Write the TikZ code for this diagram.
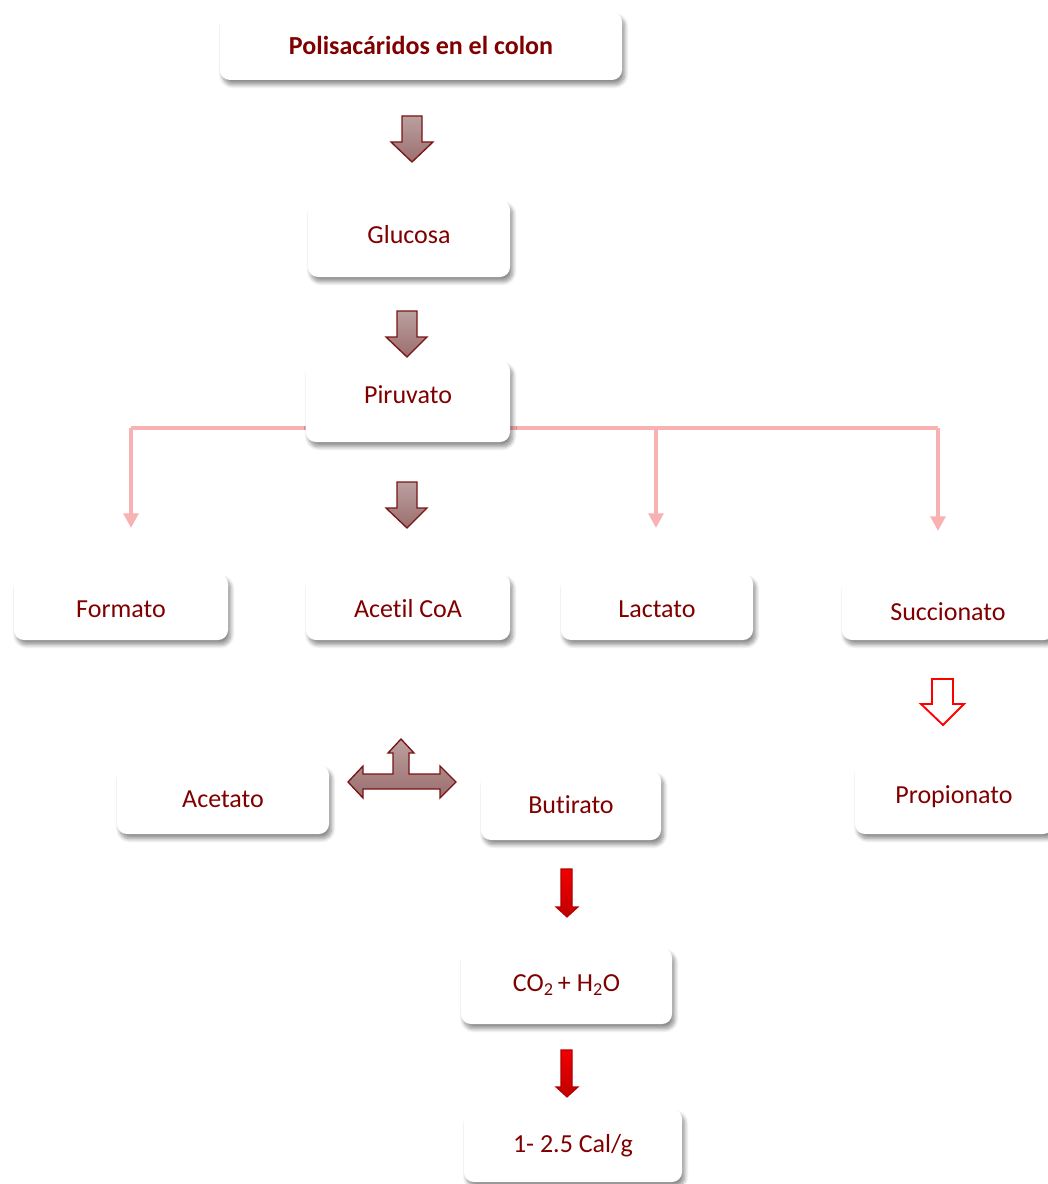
\documentclass[tikz,border=0pt]{standalone}
\usepackage{fontspec}
\setmainfont{Carlito}[Ligatures=NoCommon]
\usetikzlibrary{shadows.blur,arrows.meta}
\definecolor{txtred}{HTML}{800000}
\definecolor{pinkline}{HTML}{F8B2B2}
\definecolor{arrowedge}{HTML}{7A1414}
\definecolor{arrowtop}{HTML}{BBA0A0}
\definecolor{arrowbot}{HTML}{9C6E6E}
\tikzset{
  box/.style={rectangle, rounded corners=7.5pt, fill=white, draw=none,
    text=txtred, font=\fontsize{19.5pt}{23pt}\selectfont,
    text height=14.04pt, text depth=6.24pt, inner sep=0pt,
    blur shadow={shadow xshift=2pt, shadow yshift=-3.5pt, shadow blur steps=8, shadow opacity=45, shadow blur radius=3pt}},
  tp/.style 2 args={text height=#1pt, text depth=#2pt},
  blockarrow/.style={draw=arrowedge, line width=1pt, line join=miter, top color=arrowtop, bottom color=arrowbot},
  redarrow/.style={draw=red!70!black, line width=0.8pt, top color=red!95!black, bottom color=red!75!black},
  hollowarrow/.style={draw=red, line width=1.4pt, fill=white},
  pinkconn/.style={draw=pinkline, line width=3pt, -{Triangle[width=11pt,length=11pt]}},
}
\begin{document}
\begin{tikzpicture}[x=0.75pt,y=-0.75pt]
\useasboundingbox (0,0) rectangle (1048,1184);

% pink connectors (behind Piruvato box)
\coordinate (hub) at (408,428);
\coordinate (hubL) at (131,428);
\coordinate (hubR) at (938,428);
\coordinate (tF) at (131,528);
\coordinate (tL) at (656,528);
\coordinate (tS) at (938,531);
\draw[draw=pinkline, line width=3pt] (hubL) -- (hubR);
\draw[pinkconn] (hubL) -- (tF);
\draw[pinkconn] (656,428) -- (tL);
\draw[pinkconn] (hubR) -- (tS);

% boxes
\node[box, tp={16.29}{3.99}, minimum width=402*0.75pt, minimum height=68*0.75pt, font=\fontsize{19.5pt}{23pt}\selectfont\bfseries] (poli) at (421,46) {Polisacáridos en el colon};
\node[box, tp={14.04}{6.24}, minimum width=202*0.75pt, minimum height=77*0.75pt] (glu) at (409,238.5) {Glucosa};
\node[box, tp={11.79}{8.49}, minimum width=204*0.75pt, minimum height=81*0.75pt] (pir) at (408,401.5) {Piruvato};
\node[box, tp={17.79}{2.49}, minimum width=214*0.75pt, minimum height=66*0.75pt] (form) at (121,607) {Formato};
\node[box, tp={17.79}{2.49}, minimum width=204*0.75pt, minimum height=66*0.75pt] (acoa) at (408,607) {Acetil CoA};
\node[box, tp={17.79}{2.49}, minimum width=192*0.75pt, minimum height=66*0.75pt] (lact) at (657,607) {Lactato};
\node[box, tp={19.29}{0.99}, minimum width=212*0.75pt, minimum height=64*0.75pt] (succ) at (948,608) {Succionato};
\node[box, tp={14.79}{5.49}, minimum width=198*0.75pt, minimum height=74*0.75pt] (prop) at (954,797) {Propionato};
\node[box, tp={16.29}{3.99}, minimum width=212*0.75pt, minimum height=69*0.75pt] (acet) at (223,799.5) {Acetato};
\node[box, tp={16.29}{3.99}, minimum width=180*0.75pt, minimum height=69*0.75pt] (but) at (571,805.5) {Butirato};
\node[box, tp={14.04}{6.24}, minimum width=211*0.75pt, minimum height=76*0.75pt] (co2) at (566.5,986) {CO\textsubscript{2}\,+ H\textsubscript{2}O};
\node[box, tp={15.54}{4.74}, minimum width=218*0.75pt, minimum height=73*0.75pt] (cal) at (573,1145.5) {1- 2.5 Cal/g};

% block arrows
\path[blockarrow] (402,116) -- (422,116) -- (422,142) -- (433,142) -- (412,162) -- (391,142) -- (402,142) -- cycle;
\path[blockarrow] (397,311) -- (417,311) -- (417,337) -- (427,337) -- (407,357) -- (386,337) -- (397,337) -- cycle;
\path[blockarrow] (397,482) -- (417,482) -- (417,508) -- (427,508) -- (407,528) -- (386,508) -- (397,508) -- cycle;

% T arrow
\path[blockarrow] (401,739) -- (414,753) -- (409,753) -- (409,774) -- (440,774) -- (440,766) -- (456,782) -- (440,798) -- (440,789)
  -- (363,789) -- (363,798) -- (348,782) -- (363,766) -- (363,774) -- (393,774) -- (393,753) -- (388,753) -- cycle;

% hollow red arrow
\path[hollowarrow] (932,679) -- (953,679) -- (953,704) -- (964,704) -- (943,725) -- (921,704) -- (932,704) -- cycle;

% red arrows
\path[redarrow] (561,869) -- (572,869) -- (572,907) -- (578,907) -- (567,917) -- (556,907) -- (561,907) -- cycle;
\path[redarrow] (561,1050) -- (572,1050) -- (572,1087) -- (578,1087) -- (567,1097) -- (556,1087) -- (561,1087) -- cycle;
\end{tikzpicture}
\end{document}
